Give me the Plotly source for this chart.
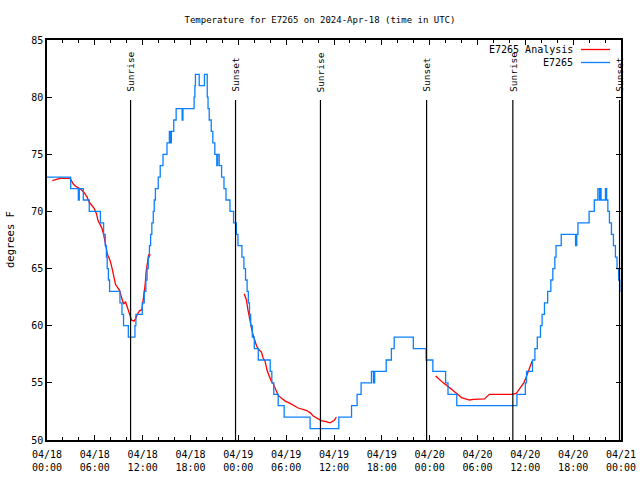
import pandas as pd
import plotly.graph_objects as go

# ---------------- data ----------------
BASE = pd.Timestamp("2024-04-18 00:00")

# E7265 observations: (hours since 04/18 00:00, degrees F), step changes
obs_hours = [0.0, 2.97, 3.93, 4.05, 4.55, 5.3, 6.7, 7.1, 7.3, 7.45, 7.55, 7.7, 7.85,
             9.15, 9.4, 9.6, 10.2, 11.03, 11.15, 11.95, 12.2, 12.4, 12.55, 12.7, 12.85,
             13.0, 13.15, 13.33, 13.45, 13.6, 13.95, 14.2, 14.55, 15.05, 15.35, 15.5,
             15.6, 15.9, 16.2, 16.95, 17.05, 18.45, 18.55, 18.62, 19.09, 19.75, 20.1,
             20.2, 20.35, 20.6, 20.8, 21.05, 21.3, 21.4, 21.6, 21.9, 22.2, 22.45, 22.95,
             23.4, 23.75, 23.95, 24.45, 24.7, 24.9, 25.1, 25.25, 25.4, 25.55, 25.75,
             26.0, 26.5, 28.0, 28.2, 28.45, 29.0, 29.75, 33.0, 36.6, 38.2, 38.9, 39.4,
             40.7, 40.95, 41.1, 42.55, 43.2, 43.55, 45.95, 47.55, 48.4, 50.0, 50.3,
             51.4, 58.95, 60.0, 60.15, 60.9, 61.2, 61.5, 61.9, 62.1, 62.4, 62.8, 63.2,
             63.45, 63.7, 63.85, 64.5, 66.3, 66.45, 66.6, 68.0, 68.65, 69.1, 69.3,
             69.4, 69.5, 70.05, 70.2, 70.35, 70.55, 70.8, 71.05, 71.3, 71.5, 71.7,
             71.85, 71.95]
obs_temp = [73, 72, 71, 72, 71, 70, 69, 68, 67, 66, 65, 64, 63,
            62, 61, 60, 59, 60, 61, 62, 63, 64, 65, 66, 67,
            68, 69, 70, 71, 72, 73, 74, 75, 76, 77, 76,
            77, 78, 79, 78, 79, 80, 81, 82, 81, 82, 80,
            79, 78, 77, 76, 75, 74, 75, 74, 73, 72, 71, 70,
            69, 68, 67, 66, 65, 64, 63, 62, 61, 60, 59,
            58, 57, 56, 55, 54, 53, 52, 51, 52, 53, 54, 55,
            56, 55, 56, 57, 58, 59, 58, 57, 56, 55, 54,
            53, 54, 55, 56, 57, 58, 59, 60, 61, 62, 63, 64,
            65, 66, 67, 68, 67, 68, 69, 70, 71, 72, 71,
            72, 71, 72, 71, 70, 69, 68, 67, 66, 65, 64,
            63, 63]

# E7265 Analysis: three separate segments (hours, degrees F)
ana1_hours = [0.67, 1.1, 1.6, 2.9, 3.1, 3.3, 3.6, 4.1, 4.6, 5.0, 5.3, 5.6, 5.9, 6.2,
              6.4, 6.7, 6.9, 7.1, 7.3, 7.45, 7.6, 7.8, 8.0, 8.2, 8.4, 8.6, 8.8, 9.1,
              9.3, 9.6, 9.85, 10.0, 10.2, 10.4, 10.6, 10.9, 11.1, 11.35, 11.6, 11.9,
              12.1, 12.3, 12.45, 12.6, 12.75, 13.0]
ana1_temp = [72.7, 72.8, 72.9, 72.9, 72.6, 72.4, 72.2, 72.0, 71.7, 71.3, 70.8, 70.5,
             70.3, 69.8, 69.2, 68.8, 68.5, 68.0, 67.3, 66.8, 66.2, 65.9, 65.5, 64.9,
             64.2, 63.6, 63.4, 63.1, 62.6, 61.9, 62.1, 61.8, 61.3, 60.9, 60.5, 60.4,
             60.6, 61.0, 61.3, 61.4, 62.3, 63.5, 64.8, 65.8, 66.2, 66.2]
ana2_hours = [24.73, 25.0, 25.2, 25.45, 25.65, 25.85, 26.1, 26.3, 26.6, 26.9, 27.1,
              27.35, 27.6, 27.9, 28.1, 28.4, 28.7, 29.0, 29.5, 29.9, 30.5, 31.0, 31.5,
              32.5, 33.0, 33.4, 34.0, 34.4, 35.0, 35.5, 36.0, 36.3]
ana2_temp = [62.8, 62.3, 61.4, 60.3, 59.8, 59.2, 58.6, 58.2, 57.9, 57.7, 57.2, 56.9,
             56.1, 55.6, 55.2, 54.9, 54.4, 53.9, 53.6, 53.4, 53.2, 53.0, 52.8, 52.6,
             52.4, 52.1, 51.9, 51.7, 51.6, 51.5, 51.7, 52.0]
ana3_hours = [48.75, 49.2, 49.7, 50.1, 50.5, 51.0, 51.35, 51.7, 52.0, 52.5, 53.0, 53.5,
              54.9, 55.1, 55.5, 58.4, 58.9, 59.2, 59.5, 59.8, 60.1, 60.35, 60.6, 60.8,
              60.95]
ana3_temp = [55.6, 55.3, 55.0, 54.8, 54.6, 54.3, 54.1, 53.9, 53.7, 53.6, 53.5, 53.55,
             53.6, 53.75, 54.0, 54.0, 54.1, 54.4, 54.7, 55.0, 55.5, 56.0, 56.4, 56.8,
             57.0]

sun_times = ["2024-04-18 10:29", "2024-04-18 23:39", "2024-04-19 10:18",
             "2024-04-19 23:37", "2024-04-20 10:26", "2024-04-20 23:49"]
sun_labels = ["Sunrise", "Sunset", "Sunrise", "Sunset", "Sunrise", "Sunset"]

xtick_vals = ["2024-04-18 00:00", "2024-04-18 06:00", "2024-04-18 12:00", "2024-04-18 18:00",
              "2024-04-19 00:00", "2024-04-19 06:00", "2024-04-19 12:00", "2024-04-19 18:00",
              "2024-04-20 00:00", "2024-04-20 06:00", "2024-04-20 12:00", "2024-04-20 18:00",
              "2024-04-21 00:00"]
xtick_text = ["04/18<br>00:00", "04/18<br>06:00", "04/18<br>12:00", "04/18<br>18:00",
              "04/19<br>00:00", "04/19<br>06:00", "04/19<br>12:00", "04/19<br>18:00",
              "04/20<br>00:00", "04/20<br>06:00", "04/20<br>12:00", "04/20<br>18:00",
              "04/21<br>00:00"]
ytick_vals = [50, 55, 60, 65, 70, 75, 80, 85]

# ---------------- figure ----------------
def to_time(hours):
    return BASE + pd.to_timedelta(hours, unit="h")

RED = "#ff0000"
BLUE = "#0a80ff"
MONO = "DejaVu Sans Mono"

# plot area at x 47..621, y 40..440 of the 640x480 page (body margin removed below)
W, H = 640, 480
ML, MR, MT, MB = 47, 19, 40, 40
PW = W - ML - MR
PH = H - MT - MB

fig = go.Figure()
for hrs, tmp in [(ana1_hours, ana1_temp), (ana2_hours, ana2_temp), (ana3_hours, ana3_temp)]:
    fig.add_trace(go.Scatter(x=to_time(hrs), y=tmp, mode="lines",
                             line=dict(color=RED, width=1.3), showlegend=False,
                             name="E7265 Analysis"))
fig.add_trace(go.Scatter(x=to_time(obs_hours), y=obs_temp, mode="lines",
                         line=dict(color=BLUE, width=1.3, shape="hv"),
                         showlegend=False, name="E7265"))

# sunrise / sunset lines and labels
for t, lab in zip(sun_times, sun_labels):
    fig.add_shape(type="line", xref="x", yref="y", x0=t, x1=t, y0=50, y1=79.75,
                  line=dict(color="black", width=1.2))
    fig.add_annotation(x=t, y=80.35, xref="x", yref="y", text=lab, showarrow=False,
                       textangle=-90, xanchor="center", yanchor="bottom",
                       font=dict(family=MONO, size=9.5, color="black"),
                       borderpad=0)

# custom legend (text left of line sample, as in the reference)
def px_x(px):
    return (px - ML) / PW

def px_y(py):
    return (H - MB - py) / PH

leg = [("E7265 Analysis", RED, 49.5), ("E7265", BLUE, 62.5)]
for txt, col, py in leg:
    fig.add_annotation(x=px_x(575), y=px_y(py), xref="paper", yref="paper", text=txt,
                       showarrow=False, xanchor="right", yanchor="middle",
                       font=dict(family=MONO, size=10, color="black"))
    fig.add_shape(type="line", xref="paper", yref="paper", x0=px_x(581), x1=px_x(610),
                  y0=px_y(py), y1=px_y(py), line=dict(color=col, width=1.3))

# y axis title
fig.add_annotation(x=px_x(10), y=px_y(240), xref="paper", yref="paper", text="degrees F",
                   showarrow=False, textangle=-90, xanchor="center", yanchor="middle",
                   font=dict(family=MONO, size=10.5, color="black"), borderpad=0)

fig.update_layout(
    width=W, height=H,
    margin=dict(l=ML, r=MR, t=MT, b=MB, autoexpand=False),
    paper_bgcolor="white", plot_bgcolor="white",
    title=dict(text="Temperature for E7265 on 2024-Apr-18 (time in UTC)",
               x=0.5, xanchor="center", y=1 - 20 / H, yanchor="middle",
               font=dict(family=MONO, size=9, color="black")),
    showlegend=False,
    font=dict(family=MONO, size=10, color="black"),
)
fig.update_xaxes(
    type="date", range=["2024-04-18 00:00", "2024-04-21 00:00"], automargin=False,
    tickmode="array", tickvals=xtick_vals, ticktext=xtick_text,
    ticks="inside", ticklen=5, tickcolor="black", tickwidth=1, ticklabelstandoff=4,
    showline=True, linecolor="black", linewidth=1.5, mirror="ticks",
    showgrid=False, zeroline=False,
    minor=dict(tick0="2024-04-18", dtick=2 * 3600 * 1000, ticks="inside",
               ticklen=3, tickcolor="black", showgrid=False),
    tickfont=dict(family=MONO, size=10, color="black"),
)
fig.update_yaxes(
    range=[50, 85], tickmode="array", tickvals=ytick_vals, automargin=False,
    ticks="inside", ticklen=5, tickcolor="black", tickwidth=1,
    showline=True, linecolor="black", linewidth=1.5, mirror="ticks",
    showgrid=False, zeroline=False,
    tickfont=dict(family=MONO, size=10, color="black"),
)

fig.write_html("out.html",
               config={"displayModeBar": False},
               post_script="document.body.style.margin='0px';")
